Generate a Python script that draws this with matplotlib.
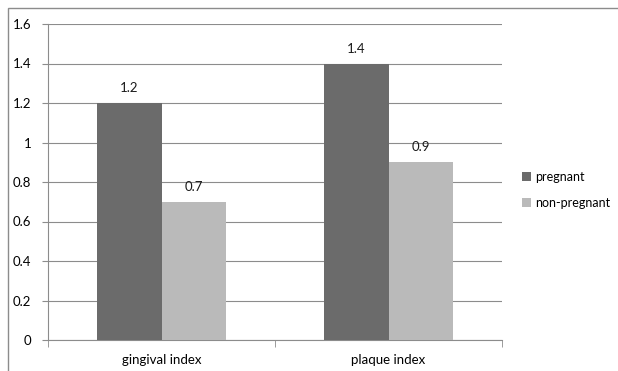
import numpy as np
import matplotlib
matplotlib.use("Agg")
from matplotlib import pyplot as plt
from matplotlib.patches import Rectangle

categories = ["gingival index", "plaque index"]
pregnant = [1.2, 1.4]
non_pregnant = [0.7, 0.9]
series_names = ["pregnant", "non-pregnant"]
colors = ["#6b6b6b", "#bababa"]

plt.rcParams['font.family'] = ['Lato', 'DejaVu Sans']
plt.rcParams['font.size'] = 9.5

fig = plt.figure(figsize=(6.18, 3.71), dpi=100)
# chart frame
fig.patches.append(Rectangle((8/618, -0.1), 2, 1.1 - 8/371, transform=fig.transFigure,
                             fill=False, edgecolor="#8c8c8c", linewidth=1))

ax = fig.add_axes([48/618, 31/371, 454/618, 316/371])
x = np.arange(len(categories))
w = 0.285
ax.bar(x - w/2, pregnant, w, color=colors[0], label=series_names[0], zorder=3)
ax.bar(x + w/2, non_pregnant, w, color=colors[1], label=series_names[1], zorder=3)
for xi, v in zip(x - w/2, pregnant):
    ax.text(xi, v + 0.045, f"{v:g}", ha="center", va="bottom", color="#1a1a1a")
for xi, v in zip(x + w/2, non_pregnant):
    ax.text(xi, v + 0.045, f"{v:g}", ha="center", va="bottom", color="#1a1a1a")

ax.set_xlim(-0.5, 1.5)
ax.set_ylim(0, 1.6)
ax.set_yticks(np.arange(0, 1.61, 0.2))
ax.set_yticklabels(["0", "0.2", "0.4", "0.6", "0.8", "1", "1.2", "1.4", "1.6"])
ax.set_xticks(x)
ax.set_xticklabels(categories)
ax.set_xticks([-0.5, 0.5, 1.5], minor=True)
ax.tick_params(axis="x", which="major", length=0, pad=10)
ax.tick_params(axis="x", which="minor", length=5, color="#8c8c8c")
ax.tick_params(axis="y", length=4, color="#8c8c8c", pad=8)
ax.grid(axis="y", color="#8c8c8c", linewidth=0.8, zorder=0)
for s in ["top", "right"]:
    ax.spines[s].set_visible(False)
for s in ["left", "bottom"]:
    ax.spines[s].set_color("#8c8c8c")

ax.legend(loc="center left", bbox_to_anchor=(1.025, 0.475), frameon=False, fontsize=9,
          handlelength=0.7, handleheight=0.7, handletextpad=0.35, labelspacing=1.1,
          borderpad=0.2)

plt.savefig("out.png")
